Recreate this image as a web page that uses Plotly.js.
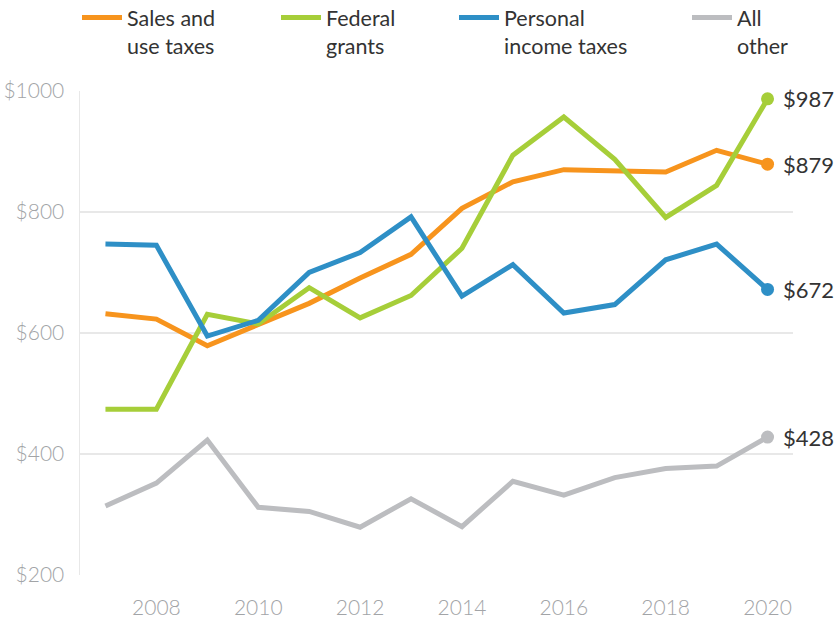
<!DOCTYPE html>
<html><head><meta charset="utf-8">
<script src="https://cdn.plot.ly/plotly-3.0.1.min.js"></script>
<style>html,body{margin:0;padding:0;background:#fff;}</style>
</head><body>
<div id="chart" style="width:837px;height:623px;"></div>
<script>
const years = [2007,2008,2009,2010,2011,2012,2013,2014,2015,2016,2017,2018,2019,2020];
const salesTaxes = [632,623,579,613,649,691,730,806,850,870,867,866,902,879];
const federalGrants = [474,474,631,615,675,625,662,740,894,957,887,791,844,987];
const personalIncome = [747,745,595,621,700,733,792,661,713,633,647,721,747,672];
const allOther = [314,352,423,312,305,279,326,280,355,332,361,376,380,428];
const seriesNames = ['Sales and<br>use taxes','Federal<br>grants','Personal<br>income taxes','All<br>other'];
const yTicks = [200,400,600,800,1000];
const yTickLabels = ['$200','$400','$600','$800','$1000'];
const xTicks = [2008,2010,2012,2014,2016,2018,2020];

const allSeries = [salesTaxes, federalGrants, personalIncome, allOther];
const colors = ['#F7941D','#A6CE39','#2E8FC6','#BCBDC0'];
const legendIds = ['legend','legend2','legend3','legend4'];
const legendX = [77,276,454,687];

const W = 837, ML = 80, MR = 44, MT = 91, MB = 48;
const plotW = W - ML - MR, plotH = 623 - MT - MB;
const FONT = 'Lato, "Open Sans", sans-serif';

const lineTraces = allSeries.map((vals, i) => ({
  x: years, y: vals, name: seriesNames[i], type: 'scatter', mode: 'lines',
  line: {color: colors[i], width: 5},
  legend: legendIds[i], cliponaxis: false, hoverinfo: 'x+y'
}));
const endTraces = allSeries.map((vals, i) => ({
  x: [years[years.length - 1]], y: [vals[vals.length - 1]], type: 'scatter', mode: 'markers',
  marker: {color: colors[i], size: 13}, showlegend: false, cliponaxis: false, hoverinfo: 'x+y'
}));

const layout = {
  width: 837, height: 623,
  margin: {l: ML, r: MR, t: MT, b: MB, autoexpand: false},
  paper_bgcolor: '#fff', plot_bgcolor: '#fff',
  font: {family: FONT, color: '#333'},
  showlegend: true,
  xaxis: {
    range: [2006.5, 2020.5], tickvals: xTicks, showgrid: false, zeroline: false,
    showline: false, ticks: 'outside', ticklen: 14, tickcolor: 'rgba(0,0,0,0)',
    tickfont: {size: 21, color: '#A2A4A7', weight: 300}, fixedrange: true
  },
  yaxis: {
    range: [200, 1000], tickvals: yTicks, ticktext: yTickLabels,
    showgrid: true, gridcolor: '#E8E8E8', gridwidth: 1.5, zeroline: false,
    showline: true, linecolor: '#E8E8E8', linewidth: 1.5,
    ticks: 'outside', ticklen: 10, tickcolor: 'rgba(0,0,0,0)',
    tickfont: {size: 21, color: '#A2A4A7', weight: 300}, fixedrange: true
  },
  annotations: allSeries.map((vals, i) => ({
    x: years[years.length - 1], y: vals[vals.length - 1], xref: 'x', yref: 'y',
    text: '$' + vals[vals.length - 1], showarrow: false, xanchor: 'left', yanchor: 'middle',
    xshift: 13, font: {size: 22, color: '#333', weight: 400}
  }))
};

legendIds.forEach((id, i) => {
  layout[id] = {
    x: (legendX[i] - ML) / plotW, xanchor: 'left', y: 1 + 94 / plotH, yanchor: 'top',
    orientation: 'h', valign: 'top', bgcolor: 'rgba(0,0,0,0)', borderwidth: 0,
    font: {size: 21.5, color: '#333', weight: 400}, itemwidth: 40
  };
});

Plotly.newPlot('chart', lineTraces.concat(endTraces), layout, {displayModeBar: false, staticPlot: true});
</script>
</body></html>
